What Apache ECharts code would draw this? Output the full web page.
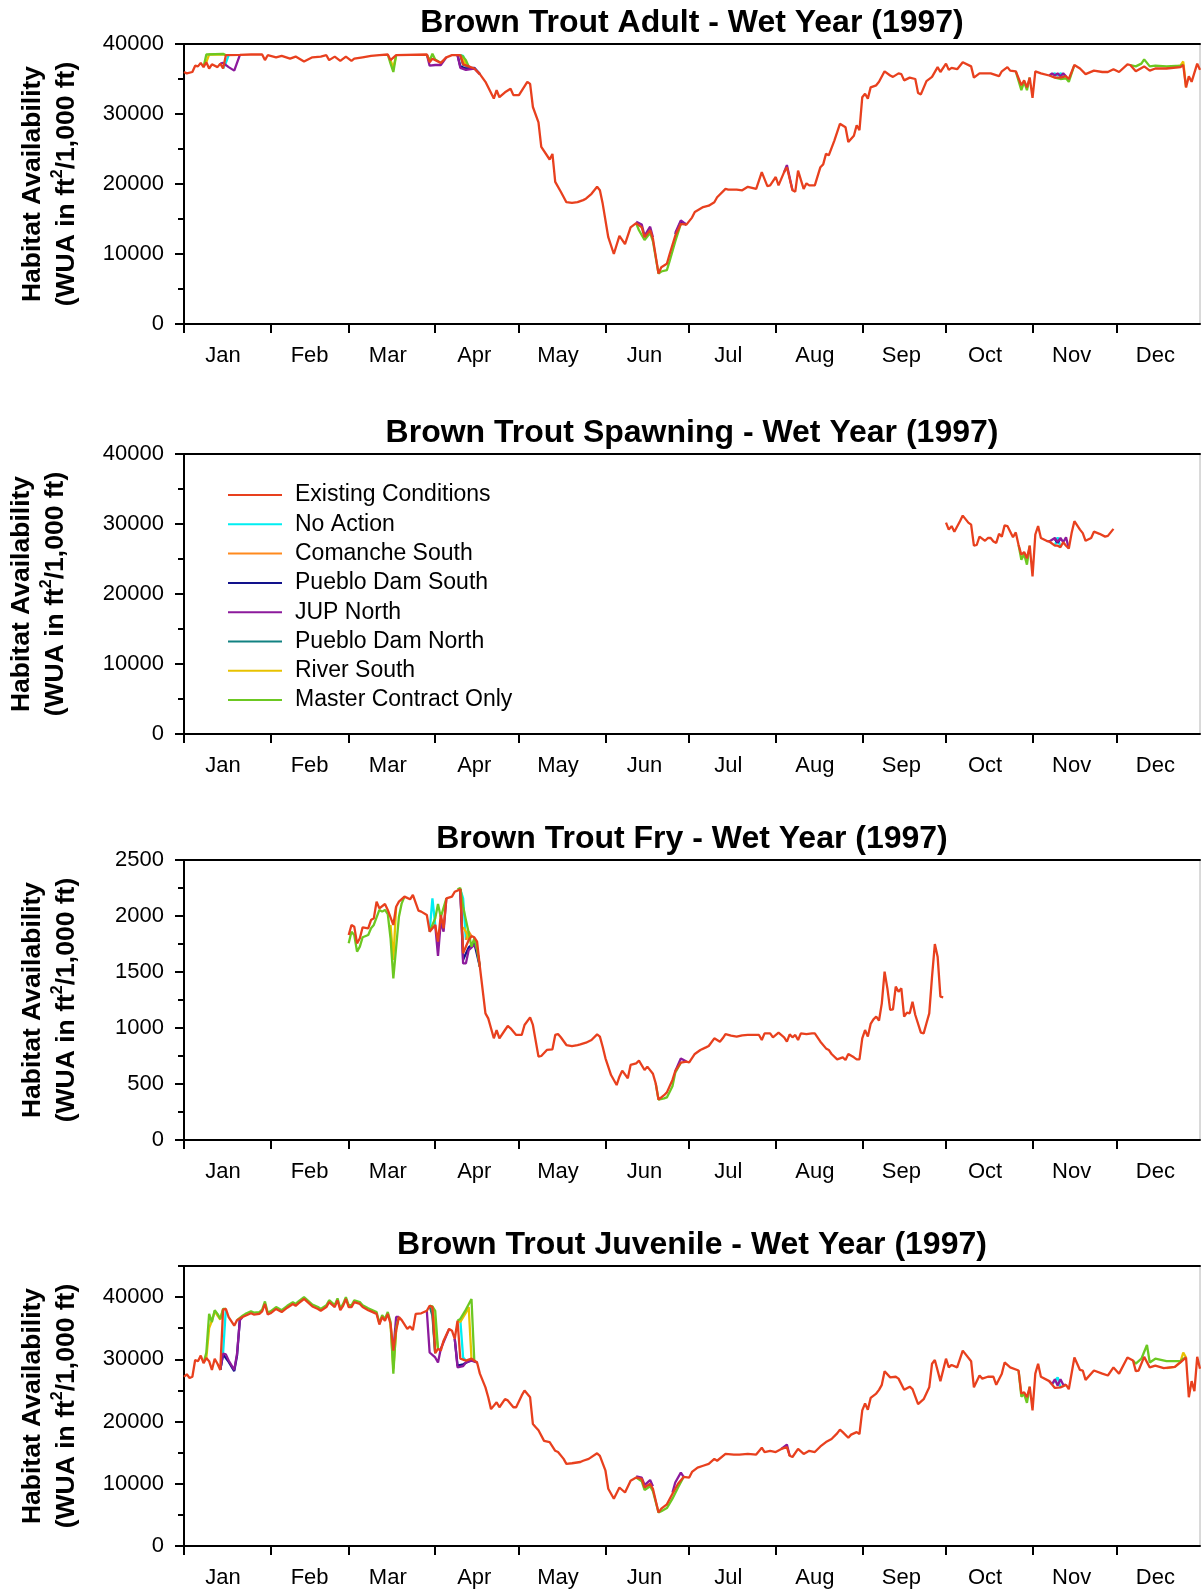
<!DOCTYPE html>
<html>
<head>
<meta charset="utf-8">
<title>Brown Trout - Wet Year (1997)</title>
<script src="https://cdn.jsdelivr.net/npm/echarts@6/dist/echarts.min.js"></script>
<style>
  html, body { margin: 0; padding: 0; background: #fff; }
  #chart { width: 1201px; height: 1590px; }
</style>
</head>
<body>
<div id="chart"></div>
<script>
var FONT = '"Liberation Sans", Arial, Helvetica, sans-serif';

var months = ['Jan', 'Feb', 'Mar', 'Apr', 'May', 'Jun', 'Jul', 'Aug', 'Sep', 'Oct', 'Nov', 'Dec'];
var monthStarts = [0, 31, 59, 90, 120, 151, 181, 212, 243, 273, 304, 334];
var labelDays = monthStarts.map(function (d) { return d + 14; });

var seriesNames = ['Existing Conditions', 'No Action', 'Comanche South', 'Pueblo Dam South',
  'JUP North', 'Pueblo Dam North', 'River South', 'Master Contract Only'];
var seriesColors = ['#e8401e', '#00eef2', '#ff8a1e', '#12128c', '#8c1a9c', '#128282', '#e8c200', '#6cc822'];

// ---- Adult: [day of year, WUA] ----
var adultExisting = [[0,36000],[1,35800],[3,36000],[4,36900],[5,36800],[6,37300],[7,36700],[8,37400],[9,36500],[10,37100],[12,36700],[13,37200],[14,36500],[15,38400],[20,38450],[24,38500],[28,38500],[29,37700],[30,38400],[33,38100],[35,38300],[38,37900],[40,38200],[43,37500],[46,38100],[49,38200],[51,38400],[52,37700],[54,38200],[56,37600],[58,38200],[60,37600],[61,37900],[64,38100],[67,38300],[70,38400],[73,38500],[74,37700],[76,38400],[87,38500],[88,37400],[89,37900],[92,37300],[94,38100],[96,38400],[99,38400],[100,37100],[102,36800],[104,36500],[106,35700],[108,34600],[111,32200],[112,33400],[113,32400],[115,33100],[117,33600],[118,32700],[120,32700],[123,34600],[124,34300],[125,31000],[127,28800],[128,25300],[131,23500],[132,24300],[133,20300],[135,18900],[137,17400],[139,17300],[141,17400],[143,17700],[144,17900],[146,18600],[148,19600],[149,19100],[150,17200],[152,12400],[154,10000],[156,12600],[158,11400],[160,13800],[162,14400],[164,13800],[165,12400],[167,13400],[168,12200],[170,7200],[171,8100],[173,8600],[174,10000],[176,12600],[178,14300],[180,14200],[182,15200],[183,16000],[186,16700],[188,16900],[190,17400],[191,18100],[194,19300],[195,19200],[198,19200],[200,19100],[202,19600],[205,19300],[207,21700],[209,19700],[210,19800],[212,21000],[213,19800],[215,21700],[216,22400],[218,19100],[219,18900],[220,21900],[222,19300],[223,20100],[224,19800],[226,19800],[228,22400],[229,22800],[230,24300],[231,24100],[233,26200],[235,28600],[237,28100],[238,26000],[240,26900],[241,28400],[242,27700],[243,32400],[244,32900],[245,32200],[246,33800],[248,34100],[249,34600],[251,36100],[253,35500],[254,35300],[256,35800],[257,35700],[258,34800],[260,35200],[262,35000],[263,33000],[264,32800],[266,34700],[268,35300],[270,36700],[271,36000],[273,37200],[274,36300],[275,36600],[277,36400],[279,37400],[282,36800],[283,35200],[285,35800],[287,35800],[289,35800],[292,35400],[293,36100],[295,36700],[296,36200],[298,36100],[300,34100],[301,34800],[302,33800],[303,35200],[304,32300],[305,36100],[307,35800],[310,35500],[312,35200],[314,35200],[316,35400],[317,35000],[319,37000],[321,36500],[323,35700],[326,36200],[329,36000],[331,36000],[333,36400],[335,36000],[338,37100],[339,37000],[341,36100],[344,36800],[346,36200],[348,36500],[352,36500],[357,36700],[358,37000],[359,33800],[360,35400],[361,34600],[363,37200],[364,36300]];
var adultNoAction = [
  [[14,36500],[15,37300],[16,38400]],
  [[99,38400],[100,38300],[101,36900]],
  [[310,35500],[312,35800],[313,35500],[314,35800],[316,35400]]
];
var adultComanche = [[[99,38400],[100,37600],[101,37000],[102,36800]]];
var adultPuebloSouth = [
  [[98,38400],[99,36800],[101,36500],[104,36600],[106,35700]],
  [[176,12800],[178,14600],[180,14200]]
];
var adultJUP = [
  [[13,37200],[14,37300],[16,36700],[18,36200],[20,38400]],
  [[87,38500],[88,36900],[90,37000],[92,37000],[94,38100]],
  [[98,38400],[99,36600],[101,36300],[104,36500],[106,35700]],
  [[162,14600],[164,14200],[165,12600],[167,13900],[168,12400]],
  [[176,13000],[178,14800],[180,14200]],
  [[215,21700],[216,22700],[218,19100]],
  [[310,35500],[311,35800],[312,35500],[313,35800],[314,35400],[315,35800],[316,35400]]
];
var adultPuebloNorth = [[[99,38400],[100,37000],[102,36800]]];
var adultRiver = [
  [[8,37400],[9,38500],[14,38500],[15,38400]],
  [[74,37700],[75,36600],[76,38400]],
  [[99,38400],[100,38000],[101,37000],[102,36800]],
  [[352,36600],[357,36900],[358,37500],[359,33800]]
];
var adultMaster = [
  [[7,36700],[8,38500],[14,38600],[15,38400]],
  [[73,38500],[74,37200],[75,36000],[76,38400]],
  [[87,38500],[88,37600],[89,38600],[90,37800],[92,37300]],
  [[99,38400],[100,38200],[101,37700],[102,36800]],
  [[162,14400],[163,13400],[165,12000],[167,13000],[168,11800],[170,7200],[171,7500],[173,7700],[174,9000],[176,11800],[178,14300]],
  [[298,36100],[300,33400],[301,34600],[302,33400],[303,35200]],
  [[312,35200],[314,35000],[316,35100],[317,34600],[319,37000]],
  [[339,37000],[341,36800],[343,37200],[344,37800],[346,36800],[348,36900],[352,36800],[357,36900],[358,37000]]
];

// ---- Spawning ----
var spawnExisting = [[273,30200],[274,29200],[275,29700],[276,28900],[278,30400],[279,31200],[281,30200],[282,29900],[283,26900],[284,27000],[285,28200],[287,27600],[288,28000],[289,28000],[290,27500],[291,27300],[292,28600],[293,28200],[294,29800],[295,29700],[297,28100],[298,28800],[299,27000],[300,25600],[301,26000],[302,25100],[303,26900],[304,22500],[305,28500],[306,29700],[307,28000],[309,27600],[310,27500],[312,26900],[313,26900],[314,26700],[315,27400],[316,26900],[317,26500],[318,28700],[319,30400],[321,29200],[322,28700],[323,27600],[325,28000],[326,28900],[328,28600],[330,28200],[331,28300],[333,29300]];
var spawnNoAction = [[[312,26900],[313,28100],[314,26700]]];
var spawnComanche = [];
var spawnPuebloSouth = [[[312,27800],[313,27300],[314,27900]]];
var spawnJUP = [[[309,27600],[310,27500],[312,28000],[313,27400],[314,28000],[315,27400],[316,28100],[317,26500]]];
var spawnPuebloNorth = [];
var spawnRiver = [];
var spawnMaster = [[[299,27000],[300,24900],[301,25700],[302,24200],[303,26900]]];

// ---- Fry ----
var fryExisting = [[59,1830],[60,1920],[61,1905],[62,1756],[63,1801],[64,1899],[66,1890],[67,1964],[68,1979],[69,2128],[70,2068],[72,2107],[73,2054],[75,1920],[76,2083],[77,2128],[79,2173],[81,2149],[82,2188],[84,2048],[85,2039],[87,2009],[88,1860],[90,1920],[91,1771],[92,2009],[93,1890],[94,2158],[96,2173],[97,2217],[99,2238],[100,1667],[102,1786],[103,1821],[104,1810],[105,1771],[106,1548],[108,1131],[109,1086],[111,908],[112,982],[113,908],[115,982],[116,1018],[117,997],[119,938],[121,938],[122,1027],[124,1095],[125,1027],[127,744],[128,750],[130,804],[132,810],[133,938],[134,946],[135,917],[137,848],[139,839],[141,848],[142,854],[144,869],[146,893],[148,943],[149,923],[150,833],[151,729],[153,580],[155,491],[156,565],[157,619],[159,551],[160,670],[162,685],[163,708],[165,625],[166,655],[168,592],[169,506],[170,360],[172,400],[173,425],[175,536],[176,615],[178,690],[180,700],[181,693],[183,768],[185,804],[187,827],[188,839],[190,908],[192,878],[193,908],[194,946],[196,932],[198,923],[200,935],[202,938],[205,938],[206,938],[207,893],[208,952],[210,952],[211,917],[213,958],[215,917],[216,878],[217,943],[218,917],[219,938],[220,893],[221,952],[223,946],[225,952],[226,952],[228,878],[230,818],[231,804],[232,768],[234,720],[236,738],[237,714],[238,768],[240,738],[241,720],[242,720],[243,908],[244,982],[245,923],[246,1036],[247,1077],[248,1101],[249,1066],[250,1220],[251,1503],[252,1354],[253,1161],[254,1167],[255,1369],[256,1324],[257,1354],[258,1101],[259,1137],[260,1131],[261,1235],[262,1116],[264,958],[265,952],[266,1042],[267,1131],[268,1458],[269,1750],[270,1637],[271,1280],[272,1274]];
var fryNoAction = [
  [[88,1860],[89,2158],[90,1920]],
  [[99,2238],[100,2158],[101,1786]]
];
var fryComanche = [[[101,1786],[102,1860],[103,1821]]];
var fryPuebloSouth = [[[99,2238],[100,1610],[102,1720],[104,1760],[106,1548]]];
var fryJUP = [
  [[90,1920],[91,1643],[92,1950],[93,1860],[94,2158]],
  [[99,2238],[100,1577],[101,1577],[102,1696],[104,1741],[105,1696],[106,1548]],
  [[176,615],[178,728],[180,700]]
];
var fryPuebloNorth = [];
var fryRiver = [
  [[74,1920],[75,1607],[76,2083]],
  [[100,1900],[101,1860],[102,1790],[103,1821]]
];
var fryMaster = [
  [[59,1756],[60,1860],[61,1830],[62,1682],[63,1726],[64,1810],[66,1830],[67,1890],[68,1920],[70,2054],[71,2039],[72,2054],[73,2018],[74,1801],[75,1443],[77,1994],[78,2113],[79,2173]],
  [[88,1860],[89,1920],[90,1979],[91,2107],[92,1990],[94,2158]],
  [[98,2238],[99,2250],[100,2083],[101,1964],[102,1850],[103,1726],[104,1800],[105,1700],[106,1548]],
  [[169,506],[170,360],[172,371],[173,380],[175,480],[176,600],[178,690]]
];

// ---- Juvenile ----
var juvExisting = [[0,27200],[1,27600],[2,27000],[3,27200],[4,29900],[5,29700],[6,30600],[7,29400],[8,30200],[9,29700],[10,28300],[11,30100],[12,29300],[13,28300],[14,38000],[15,38100],[16,36800],[18,35400],[19,36300],[21,36800],[22,37000],[24,37400],[25,37200],[27,37300],[28,37700],[29,38900],[30,37200],[31,37400],[33,38100],[35,37600],[37,38300],[39,38900],[40,38600],[41,39000],[43,39700],[45,38900],[46,38500],[48,38100],[49,37800],[51,38400],[52,39200],[54,38400],[55,39500],[56,37900],[57,38600],[58,39700],[59,38400],[60,38400],[61,39200],[63,38900],[64,38400],[66,37900],[67,37700],[69,37300],[70,35600],[71,36800],[72,36200],[73,37300],[74,35700],[75,31400],[76,34600],[77,36800],[78,36300],[80,34900],[81,35300],[82,34700],[83,37300],[85,37400],[86,37600],[87,37800],[88,38600],[89,38400],[90,31000],[91,31700],[92,31400],[93,33000],[95,34900],[96,34600],[97,33300],[98,36200],[99,30100],[101,29800],[103,30100],[105,29500],[106,27700],[108,25500],[109,23900],[110,22000],[112,23100],[113,22300],[115,23600],[116,23400],[118,22300],[119,22300],[121,24200],[122,25000],[124,23900],[125,19600],[126,19100],[127,18600],[129,16900],[131,16700],[133,15300],[134,15100],[136,14000],[137,13200],[139,13300],[142,13500],[143,13700],[145,14000],[148,14900],[149,14500],[151,12100],[152,9200],[154,7600],[156,9400],[158,8600],[160,10500],[162,11000],[164,10800],[165,9400],[167,10000],[168,9200],[170,5400],[171,6000],[173,6700],[175,8400],[177,10000],[179,11100],[181,11000],[182,11900],[184,12600],[186,12900],[188,13200],[190,14000],[191,13700],[194,14800],[197,14700],[199,14700],[202,14800],[205,14700],[207,15800],[208,15100],[210,15300],[212,15100],[214,15600],[216,15900],[217,14500],[218,14300],[220,15600],[222,14800],[224,15300],[226,15100],[228,16000],[230,16700],[232,17200],[234,18100],[235,18700],[236,18300],[238,17400],[239,17900],[241,18300],[242,18000],[243,21800],[244,22900],[245,21900],[246,23800],[248,24500],[249,25100],[250,25900],[251,28100],[253,27100],[255,27200],[256,26900],[258,25100],[260,25600],[261,25200],[263,22800],[265,23600],[267,25500],[268,29300],[269,29900],[271,26500],[273,30100],[274,28700],[275,29100],[277,28700],[279,31400],[282,29700],[283,25500],[285,27400],[286,26900],[288,27200],[290,27200],[291,25900],[293,27700],[294,29500],[296,28700],[299,28200],[300,24500],[301,24700],[302,23900],[303,25600],[304,21800],[305,27700],[306,29300],[307,27200],[310,26500],[312,25400],[314,25500],[316,25900],[317,25200],[319,30300],[321,28300],[322,28200],[323,26700],[326,28200],[329,27700],[331,27400],[333,28700],[335,27700],[338,30300],[340,29800],[341,28100],[342,28200],[344,30400],[346,28700],[348,29000],[351,28600],[355,28800],[357,29500],[359,30300],[360,23900],[361,26500],[362,24900],[363,30400],[364,28500]];
var juvNoAction = [
  [[13,28300],[14,31000],[15,38100]],
  [[88,38600],[89,38300],[90,31000]],
  [[98,36200],[99,36300],[100,30300],[101,29800]],
  [[311,26000],[313,27100],[314,25500]]
];
var juvComanche = [[[88,38600],[89,37800],[90,31000]]];
var juvPuebloSouth = [
  [[13,28300],[14,30800],[16,29600],[18,28100],[19,30600],[20,36300]],
  [[97,33300],[98,29000],[100,29200],[103,29900],[105,29500]]
];
var juvJUP = [
  [[13,28300],[14,30900],[15,30800],[16,29800],[18,28300],[19,30900],[20,36300],[21,36800]],
  [[75,31400],[76,36800],[77,36800]],
  [[87,37800],[88,31100],[90,30300],[91,29500],[92,31700],[95,34900]],
  [[97,33300],[98,28700],[100,28900],[101,29500],[103,29800],[105,29500]],
  [[162,11200],[164,11000],[165,9800],[167,10600],[168,9600]],
  [[175,8600],[176,10200],[178,11800],[179,11100]],
  [[214,15600],[216,16300],[217,14500]],
  [[310,26500],[311,26000],[312,26800],[313,25800],[314,26800],[315,25900],[316,25900]]
];
var juvPuebloNorth = [[[88,38600],[89,37000],[90,31000]]];
var juvRiver = [
  [[8,30200],[9,35000],[10,36200],[11,37700],[13,36400],[14,38000]],
  [[74,35700],[75,28500],[76,34600]],
  [[88,38600],[89,38400],[90,35000],[91,31700]],
  [[98,36200],[99,36000],[101,37500],[102,38400],[103,30100]],
  [[352,28600],[355,28800],[357,29600],[358,31100],[359,30300]]
];
var juvMaster = [
  [[7,29400],[8,31100],[9,37300],[10,36000],[11,37900],[12,37300],[13,36500],[14,38100],[15,38100]],
  [[19,36300],[21,37000],[22,37300],[24,37700],[25,37500],[27,37600],[28,38000],[29,39300],[30,37500],[31,37700],[33,38400],[35,37900],[37,38600],[39,39200],[40,38900],[41,39300],[43,40000],[45,39200],[46,38800],[48,38400],[49,38100],[51,38700],[52,39500],[54,38700],[55,39800],[56,38200],[57,38900],[58,40000],[59,38700],[60,38700],[61,39500],[63,39200],[64,38700],[66,38200],[67,38000],[69,37600],[70,35800],[71,37100],[72,36500],[73,37600],[74,36000],[75,27700],[76,35000],[77,36800]],
  [[88,38600],[89,38500],[90,37800],[91,31700]],
  [[98,36200],[99,36500],[101,38000],[103,39700],[104,29800]],
  [[162,11000],[164,10400],[165,9000],[167,9600],[168,8800],[170,5400],[171,5600],[173,6100],[175,7600],[177,9400],[179,11100]],
  [[299,28200],[300,24000],[301,24400],[302,23000],[303,25600]],
  [[340,29800],[341,29300],[343,30100],[345,32300],[346,29500],[348,30100],[352,29700],[357,29700],[358,30100],[359,30300]]
];

var panels = [
  { title: 'Brown Trout Adult - Wet Year (1997)', top: 44, yMax: 40000, yMinor: 5000,
    yMajor: [0, 10000, 20000, 30000, 40000], nameGap: 100,
    lines: [adultExisting, adultNoAction, adultComanche, adultPuebloSouth, adultJUP, adultPuebloNorth, adultRiver, adultMaster] },
  { title: 'Brown Trout Spawning - Wet Year (1997)', top: 454, yMax: 40000, yMinor: 5000,
    yMajor: [0, 10000, 20000, 30000, 40000], nameGap: 111,
    lines: [spawnExisting, spawnNoAction, spawnComanche, spawnPuebloSouth, spawnJUP, spawnPuebloNorth, spawnRiver, spawnMaster] },
  { title: 'Brown Trout Fry - Wet Year (1997)', top: 860, yMax: 2500, yMinor: 250,
    yMajor: [0, 500, 1000, 1500, 2000, 2500], nameGap: 100,
    lines: [fryExisting, fryNoAction, fryComanche, fryPuebloSouth, fryJUP, fryPuebloNorth, fryRiver, fryMaster] },
  { title: 'Brown Trout Juvenile - Wet Year (1997)', top: 1266, yMax: 45000, yMinor: 5000,
    yMajor: [0, 10000, 20000, 30000, 40000], nameGap: 100,
    lines: [juvExisting, juvNoAction, juvComanche, juvPuebloSouth, juvJUP, juvPuebloNorth, juvRiver, juvMaster] }
];

// segments joined with an empty point so each piece is drawn on its own
function withGaps(segments) {
  var out = [];
  segments.forEach(function (seg, k) {
    if (k > 0) out.push([seg[0][0], '-']);
    out = out.concat(seg);
  });
  return out;
}

function monthName(v) {
  for (var i = 0; i < labelDays.length; i++) {
    if (Math.abs(labelDays[i] - v) < 0.01) return months[i];
  }
  return '';
}

var black = { color: '#000', width: 2 };
var option = {
  animation: false,
  backgroundColor: '#fff',
  textStyle: { fontFamily: FONT, color: '#000' },
  title: [], grid: [], xAxis: [], yAxis: [], series: [],
  legend: {
    data: seriesNames,
    orient: 'vertical',
    left: 228, top: 483,
    padding: 0,
    icon: 'rect',
    itemWidth: 54, itemHeight: 2, itemGap: 5.3,
    selectedMode: false,
    textStyle: { fontFamily: FONT, fontSize: 23, color: '#000', lineHeight: 24, padding: [0, 0, 0, 8] }
  }
};

panels.forEach(function (p, i) {
  option.title.push({
    text: p.title, left: 692, top: p.top - 37, padding: 0,
    textAlign: 'center', textVerticalAlign: 'top',
    textStyle: { fontFamily: FONT, fontSize: 32, fontWeight: 'bold', color: '#000' }
  });
  option.grid.push({
    left: 184, top: p.top, width: 1016, height: 280,
    show: true, borderColor: '#b4b4b4', borderWidth: 1, backgroundColor: 'transparent',
    outerBoundsMode: 'none'
  });
  option.xAxis.push({
    gridIndex: i, type: 'value', min: 0, max: 364, position: 'bottom',
    axisLine: { onZero: false, lineStyle: black },
    axisTick: { length: 9, lineStyle: black, customValues: monthStarts },
    axisLabel: { customValues: labelDays, formatter: monthName, fontFamily: FONT, fontSize: 22, color: '#000', margin: 21 },
    splitLine: { show: false }
  });
  option.xAxis.push({
    gridIndex: i, type: 'value', min: 0, max: 364, position: 'top',
    axisLine: { onZero: false, lineStyle: black },
    axisTick: { show: false }, axisLabel: { show: false }, splitLine: { show: false }
  });
  option.yAxis.push({
    gridIndex: i, type: 'value', min: 0, max: p.yMax, interval: p.yMinor, position: 'left',
    axisLine: { show: true, onZero: false, lineStyle: black },
    axisTick: { length: 6, lineStyle: black },
    axisLabel: { show: false }, splitLine: { show: false }
  });
  option.yAxis.push({
    gridIndex: i, type: 'value', min: 0, max: p.yMax, position: 'left',
    axisLine: { show: false },
    axisTick: { length: 9, lineStyle: black, customValues: p.yMajor },
    axisLabel: {
      customValues: p.yMajor, fontFamily: FONT, fontSize: 22, color: '#000', margin: 20,
      formatter: function (v) { return String(v); }
    },
    splitLine: { show: false },
    name: '{a|Habitat Availability}\n{a|(WUA in ft}{s|2}{a|/1,000 ft)}',
    nameLocation: 'middle', nameGap: p.nameGap, nameRotate: 90,
    nameTextStyle: {
      fontFamily: FONT, color: '#000',
      rich: {
        a: { fontFamily: FONT, fontSize: 26.5, fontWeight: 'bold', color: '#000', lineHeight: 34 },
        s: { fontFamily: FONT, fontSize: 16, fontWeight: 'bold', color: '#000', lineHeight: 22, verticalAlign: 'top' }
      }
    }
  });

  // scenario lines first, existing conditions drawn last (on top)
  [1, 2, 3, 4, 5, 6, 7, 0].forEach(function (k) {
    var src = p.lines[k];
    option.series.push({
      name: seriesNames[k], type: 'line',
      xAxisIndex: 2 * i, yAxisIndex: 2 * i + 1,
      data: k === 0 ? src : withGaps(src),
      symbol: 'none', connectNulls: false,
      itemStyle: { color: seriesColors[k] },
      lineStyle: { color: seriesColors[k], width: 2.3 },
      emphasis: { disabled: true }
    });
  });
});

var chart = echarts.init(document.getElementById('chart'), null, { renderer: 'canvas' });
chart.setOption(option);
</script>
</body>
</html>
